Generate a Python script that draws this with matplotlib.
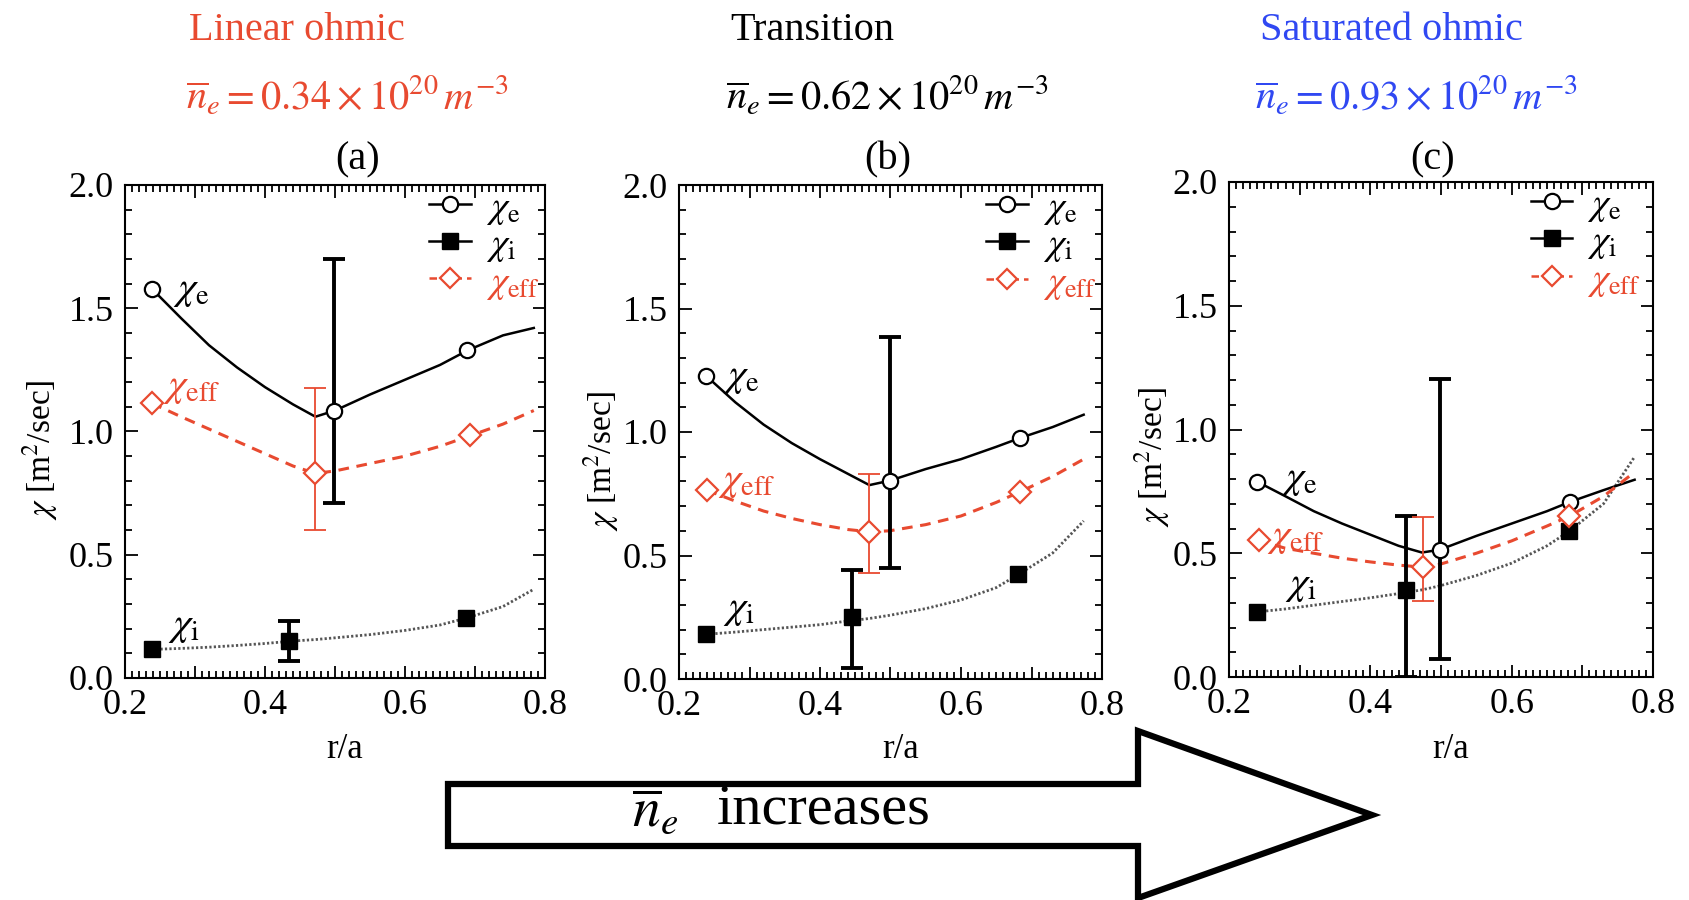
import matplotlib
matplotlib.use("Agg")
import matplotlib.pyplot as plt
from matplotlib.lines import Line2D
from matplotlib.patches import Polygon
from matplotlib.ticker import MultipleLocator, FuncFormatter

plt.rcParams['font.family'] = ['Liberation Serif', 'DejaVu Serif']
plt.rcParams['mathtext.fontset'] = 'stix'

RED = '#E84A30'
BLUE = '#3048F2'

# ---------------- data ----------------
titles = ['Linear ohmic', 'Transition', 'Saturated ohmic']
densities = ['0.34', '0.62', '0.93']
panel_tags = ['(a)', '(b)', '(c)']

# panel (a)
a_r_e = [0.238, 0.499, 0.688];  a_chi_e = [1.58, 1.085, 1.33]
a_r_i = [0.239, 0.435, 0.687];  a_chi_i = [0.116, 0.150, 0.243]
a_r_eff = [0.238, 0.472, 0.693]; a_chi_eff = [1.115, 0.83, 0.984]
a_fit_r = [0.238, 0.28, 0.32, 0.36, 0.40, 0.44, 0.472, 0.50, 0.55, 0.60, 0.65, 0.69, 0.74, 0.784]
a_fit_e = [1.58, 1.46, 1.35, 1.26, 1.18, 1.11, 1.06, 1.085, 1.15, 1.21, 1.27, 1.33, 1.39, 1.42]
a_fit_eff = [1.115, 1.06, 1.01, 0.96, 0.91, 0.86, 0.83, 0.84, 0.87, 0.90, 0.94, 0.98, 1.03, 1.085]
a_fit_i = [0.116, 0.12, 0.125, 0.132, 0.14, 0.15, 0.156, 0.163, 0.176, 0.193, 0.215, 0.245, 0.29, 0.36]
a_err_e = [0.499, 0.71, 1.70]     # r, low, high
a_err_i = [0.435, 0.067, 0.233]
a_err_eff = [0.472, 0.60, 1.178]

# panel (b)
b_r_e = [0.239, 0.499, 0.683];  b_chi_e = [1.226, 0.803, 0.975]
b_r_i = [0.239, 0.446, 0.681];  b_chi_i = [0.181, 0.251, 0.426]
b_r_eff = [0.240, 0.469, 0.684]; b_chi_eff = [0.765, 0.596, 0.757]
b_fit_r = [0.239, 0.28, 0.32, 0.36, 0.40, 0.44, 0.47, 0.499, 0.55, 0.60, 0.65, 0.683, 0.73, 0.774]
b_fit_e = [1.226, 1.12, 1.03, 0.955, 0.89, 0.83, 0.785, 0.803, 0.85, 0.89, 0.94, 0.975, 1.02, 1.07]
b_fit_eff = [0.765, 0.72, 0.68, 0.65, 0.625, 0.605, 0.596, 0.60, 0.625, 0.66, 0.715, 0.757, 0.82, 0.89]
b_fit_i = [0.181, 0.19, 0.20, 0.21, 0.22, 0.235, 0.245, 0.258, 0.285, 0.32, 0.37, 0.426, 0.51, 0.64]
b_err_e = [0.499, 0.449, 1.384]
b_err_i = [0.446, 0.045, 0.441]
b_err_eff = [0.469, 0.429, 0.831]

# panel (c)
c_r_e = [0.240, 0.498, 0.682];  c_chi_e = [0.789, 0.514, 0.707]
c_r_i = [0.240, 0.450, 0.681];  c_chi_i = [0.263, 0.351, 0.591]
c_r_eff = [0.243, 0.475, 0.681]; c_chi_eff = [0.553, 0.444, 0.650]
c_fit_r = [0.240, 0.28, 0.32, 0.36, 0.40, 0.44, 0.473, 0.498, 0.55, 0.60, 0.65, 0.682, 0.73, 0.774]
c_fit_e = [0.789, 0.73, 0.67, 0.62, 0.575, 0.53, 0.503, 0.514, 0.57, 0.62, 0.67, 0.707, 0.755, 0.797]
c_fit_eff = [0.553, 0.52, 0.50, 0.48, 0.465, 0.452, 0.444, 0.455, 0.50, 0.55, 0.61, 0.65, 0.73, 0.828]
c_fit_i = [0.263, 0.275, 0.29, 0.305, 0.32, 0.337, 0.352, 0.368, 0.41, 0.46, 0.53, 0.59, 0.70, 0.89]
c_err_e = [0.498, 0.074, 1.204]
c_err_i = [0.450, 0.0, 0.650]
c_err_eff = [0.475, 0.306, 0.647]

panels = [
    (a_r_e, a_chi_e, a_r_i, a_chi_i, a_r_eff, a_chi_eff, a_fit_r, a_fit_e, a_fit_eff, a_fit_i, a_err_e, a_err_i, a_err_eff),
    (b_r_e, b_chi_e, b_r_i, b_chi_i, b_r_eff, b_chi_eff, b_fit_r, b_fit_e, b_fit_eff, b_fit_i, b_err_e, b_err_i, b_err_eff),
    (c_r_e, c_chi_e, c_r_i, c_chi_i, c_r_eff, c_chi_eff, c_fit_r, c_fit_e, c_fit_eff, c_fit_i, c_err_e, c_err_i, c_err_eff),
]

# ---------------- layout ----------------
W, H = 1690, 900
fig = plt.figure(figsize=(W / 100, H / 100), dpi=100)

def fx(x):
    return x / W

def fy(y):
    return 1 - y / H

axes_px = [(125, 545, 185, 678), (679, 1102, 185, 679), (1229, 1653, 182, 677)]
title_x = [297, 812, 1391]
title_colors = [RED, 'black', BLUE]
formula_x = [347, 887, 1416]
tag_x = [358, 888, 1433]
ylab_x = [40, 601, 1152]
ylab_y = [450, 461, 457]
leg_anchor_x = [1.0, 1.0, 0.985]

# in-plot label positions (data coords, left edge / vertical centre) for chi_e, chi_eff, chi_i
lab_pos = [
    [(0.268, 1.57), (0.254, 1.18), (0.262, 0.21)],
    [(0.262, 1.22), (0.256, 0.80), (0.262, 0.28)],
    [(0.274, 0.80), (0.254, 0.565), (0.279, 0.37)],
]


def draw_err(ax, err, color, lw):
    mid = (err[1] + err[2]) / 2
    half = (err[2] - err[1]) / 2
    ax.errorbar([err[0]], [mid], yerr=[[half], [half]], fmt='none', ecolor=color,
                elinewidth=lw, capsize=8, capthick=lw, zorder=4)


for k, (lx, rx, ty, by) in enumerate(axes_px):
    ax = fig.add_axes([fx(lx), fy(by), fx(rx - lx), (by - ty) / H])
    (r_e, chi_e, r_i, chi_i, r_eff, chi_eff, fit_r, fit_e, fit_eff, fit_i,
     err_e, err_i, err_eff) = panels[k]

    # fitted curves
    ax.plot(fit_r, fit_e, color='black', lw=1.8, zorder=3)
    ax.plot(fit_r, fit_eff, color=RED, lw=2.2, ls=(0, (3.5, 2.5)), zorder=3)
    ax.plot(fit_r, fit_i, color='#555555', lw=2.0, ls=(0, (0.8, 0.8)), zorder=2)

    # markers
    ax.plot(r_e, chi_e, 'o', ms=11, mfc='white', mec='black', mew=1.6, zorder=5)
    ax.plot(r_i, chi_i, 's', ms=12, color='black', zorder=5)
    ax.plot(r_eff, chi_eff, 'D', ms=11, mfc='white', mec=RED, mew=1.6, zorder=5)

    # error bars
    draw_err(ax, err_e, 'black', 2.8)
    draw_err(ax, err_i, 'black', 2.8)
    draw_err(ax, err_eff, RED, 1.3)

    # in-plot labels
    (pe, peff, pi) = lab_pos[k]
    ax.text(pe[0], pe[1], r'$\chi_{\rm e}$', fontsize=29, va='center', ha='left', color='black')
    ax.text(peff[0], peff[1], r'$\chi_{\rm eff}$', fontsize=29, va='center', ha='left', color=RED)
    ax.text(pi[0], pi[1], r'$\chi_{\rm i}$', fontsize=29, va='center', ha='left', color='black')

    # legend
    handles = [
        Line2D([], [], color='black', lw=1.8, marker='o', ms=11, mfc='white', mec='black', mew=1.6),
        Line2D([], [], color='black', lw=1.8, marker='s', ms=11),
        Line2D([], [], color=RED, lw=1.8, ls=(0, (3, 2)), marker='D', ms=10, mfc='white', mec=RED, mew=1.6),
    ]
    labels = [r'$\chi_{\rm e}$', r'$\chi_{\rm i}$', r'$\chi_{\rm eff}$']
    leg = ax.legend(handles, labels, loc='upper right', bbox_to_anchor=(leg_anchor_x[k], 1.0),
                    frameon=False, fontsize=27, handlelength=1.1, handletextpad=0.4,
                    labelspacing=0.02, borderaxespad=0.05, borderpad=0.1)
    leg.get_texts()[2].set_color(RED)

    # axes styling
    ax.set_xlim(0.2, 0.8)
    ax.set_ylim(0.0, 2.0)
    ax.xaxis.set_major_locator(MultipleLocator(0.1))
    ax.xaxis.set_minor_locator(MultipleLocator(0.01))
    ax.xaxis.set_major_formatter(FuncFormatter(
        lambda v, p: f'{v:.1f}' if abs(round(v * 10) % 2) < 1e-9 else ''))
    ax.yaxis.set_major_locator(MultipleLocator(0.5))
    ax.yaxis.set_minor_locator(MultipleLocator(0.1))
    ax.yaxis.set_major_formatter(FuncFormatter(lambda v, p: f'{v:.1f}'))
    ax.tick_params(which='both', direction='in', top=True, right=True,
                   labelsize=26, width=1.3, pad=8)
    ax.tick_params(which='major', length=9)
    ax.tick_params(which='minor', length=5)
    for s in ax.spines.values():
        s.set_linewidth(1.5)

    # axis labels as figure text for exact placement
    fig.text(fx(ylab_x[k]), fy(ylab_y[k]), r'$\chi$ [m$^2$/sec]', rotation=90,
             fontsize=24, ha='center', va='center')
    fig.text(fx((lx + rx) / 2 + 10), fy(750), 'r/a', fontsize=25, ha='center', va='center')

    # panel header
    fig.text(fx(title_x[k]), fy(30), titles[k], fontsize=29, color=title_colors[k],
             ha='center', va='center')
    fig.text(fx(formula_x[k]), fy(97),
             r'$\overline{n}_e = %s\times10^{20}\,m^{-3}$' % densities[k],
             fontsize=29, color=title_colors[k], ha='center', va='center')
    fig.text(fx(tag_x[k]), fy(160), panel_tags[k], fontsize=29, ha='center', va='center')

# big arrow
arrow_px = [(448, 784), (1138, 784), (1138, 731), (1372, 815), (1138, 898), (1138, 846), (448, 846)]
arrow = Polygon([(fx(x), fy(y)) for x, y in arrow_px], closed=True, facecolor='white',
                edgecolor='black', lw=4.5, joinstyle='miter', transform=fig.transFigure)
fig.patches.append(arrow)
fig.text(fx(655), fy(812), r'$\overline{n}_e$', fontsize=40, ha='center', va='center')
fig.text(fx(824), fy(810), 'increases', fontsize=42, ha='center', va='center')

fig.savefig('out.png', dpi=100)
